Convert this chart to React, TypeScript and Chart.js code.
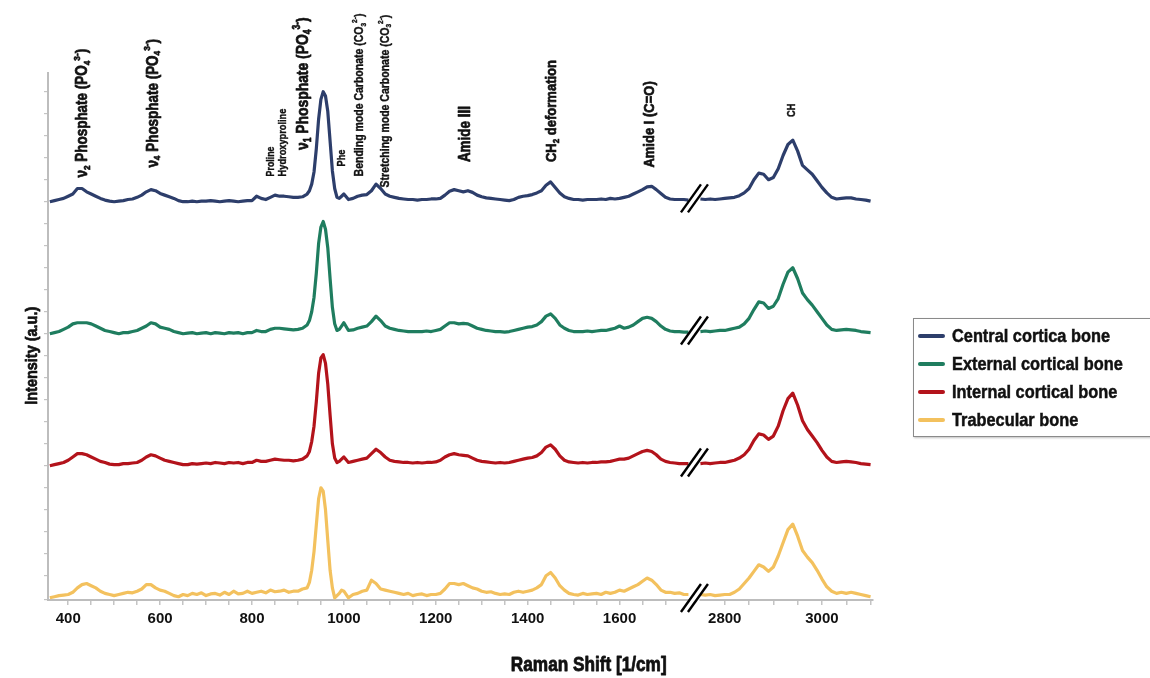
import React, { useEffect, useRef } from 'react';
import { Chart, registerables } from 'chart.js';

Chart.register(...registerables);

// ---------------- DATA ----------------
// Raman shift positions (1/cm), fingerprint region and high-wavenumber region
const X_LEFT: number[] = [
  360, 370, 380, 390, 400, 410, 420, 430, 440, 450, 460, 470, 480, 490, 500, 510, 520, 530, 540, 550,
  560, 570, 580, 590, 600, 610, 620, 630, 640, 650, 660, 670, 680, 690, 700, 710, 720, 730, 740, 750,
  760, 770, 780, 790, 800, 810, 820, 830, 840, 850, 860, 870, 880, 890, 900, 910, 920,
  925, 930, 935, 940, 945, 950, 955, 960, 965, 970, 975, 980, 985, 990, 995, 1000,
  1010, 1020, 1030, 1040, 1050, 1060, 1070, 1080, 1090,
  1100, 1110, 1120, 1130, 1140, 1150, 1160, 1170, 1180, 1190,
  1200, 1210, 1220, 1230, 1240, 1250, 1260, 1270, 1280, 1290,
  1300, 1310, 1320, 1330, 1340, 1350, 1360, 1370, 1380, 1390,
  1400, 1410, 1420, 1430, 1440, 1450, 1460, 1470, 1480, 1490,
  1500, 1510, 1520, 1530, 1540, 1550, 1560, 1570, 1580, 1590,
  1600, 1610, 1620, 1630, 1640, 1650, 1660, 1670, 1680, 1690,
  1700, 1710, 1720, 1730, 1740, 1750,
];
const X_RIGHT: number[] = [
  2750, 2760, 2770, 2780, 2790, 2800, 2810, 2820, 2830, 2840,
  2850, 2860, 2870, 2880, 2890, 2900, 2910, 2920, 2930, 2940,
  2950, 2960, 2970, 2980, 2990, 3000, 3010, 3020, 3030, 3040,
  3050, 3060, 3070, 3080, 3090, 3100,
];

const CENTRAL_LEFT: number[] = [
  0.0, 0.01, 0.02, 0.03, 0.05, 0.07, 0.12, 0.12, 0.09, 0.07, 0.05, 0.03, 0.015, 0.005, 0.0, 0.005, 0.01, 0.02, 0.025, 0.04,
  0.06, 0.09, 0.11, 0.1, 0.075, 0.06, 0.045, 0.03, 0.01, 0.0, 0.0, 0.005, 0.0, 0.005, 0.005, 0.01, 0.005, 0.0, 0.005, 0.01,
  0.005, 0.0, 0.005, 0.01, 0.01, 0.05, 0.03, 0.02, 0.04, 0.06, 0.05, 0.05, 0.045, 0.04, 0.04, 0.045, 0.07,
  0.1, 0.16, 0.27, 0.48, 0.75, 0.93, 1.0, 0.96, 0.82, 0.55, 0.28, 0.12, 0.04, 0.03, 0.05, 0.07,
  0.02, 0.03, 0.05, 0.06, 0.065, 0.1, 0.16, 0.12, 0.07,
  0.05, 0.04, 0.03, 0.025, 0.02, 0.02, 0.015, 0.02, 0.02, 0.025,
  0.025, 0.03, 0.06, 0.095, 0.11, 0.1, 0.09, 0.1, 0.085, 0.06,
  0.045, 0.035, 0.03, 0.025, 0.02, 0.015, 0.01, 0.02, 0.04, 0.05,
  0.055, 0.065, 0.08, 0.1, 0.15, 0.18, 0.13, 0.08, 0.045, 0.03,
  0.02, 0.02, 0.015, 0.02, 0.02, 0.02, 0.025, 0.02, 0.03, 0.025,
  0.03, 0.04, 0.05, 0.07, 0.09, 0.11, 0.135, 0.14, 0.11, 0.075,
  0.04, 0.025, 0.02, 0.02, 0.02, 0.015,
];
const CENTRAL_RIGHT: number[] = [
  0.025, 0.02, 0.025, 0.02, 0.025, 0.03, 0.035, 0.04, 0.055, 0.08,
  0.12, 0.2, 0.26, 0.25, 0.2, 0.22, 0.3, 0.42, 0.52, 0.56,
  0.46, 0.33, 0.29, 0.25, 0.19, 0.13, 0.08, 0.04, 0.025, 0.03,
  0.035, 0.035, 0.025, 0.02, 0.015, 0.005,
];

const EXTERNAL_LEFT: number[] = [
  0.0, 0.01, 0.02, 0.04, 0.06, 0.09, 0.1, 0.1, 0.1, 0.09, 0.07, 0.05, 0.03, 0.02, 0.01, 0.0, 0.01, 0.01, 0.02, 0.03,
  0.05, 0.07, 0.1, 0.09, 0.06, 0.05, 0.04, 0.02, 0.01, 0.0, 0.005, 0.01, 0.0, 0.005, 0.01, 0.0, 0.01, 0.005, 0.0, 0.01,
  0.005, 0.01, 0.0, 0.01, 0.01, 0.03, 0.02, 0.02, 0.04, 0.05, 0.05, 0.045, 0.04, 0.035, 0.04, 0.05, 0.08,
  0.12, 0.2, 0.33, 0.55, 0.82, 0.97, 1.02, 0.95, 0.78, 0.5, 0.24, 0.09, 0.03, 0.04, 0.07, 0.1,
  0.03, 0.035, 0.05, 0.06, 0.07, 0.11, 0.16, 0.12, 0.07,
  0.05, 0.04, 0.03, 0.025, 0.02, 0.02, 0.02, 0.02, 0.025, 0.02,
  0.03, 0.04, 0.07, 0.1, 0.1, 0.09, 0.095, 0.09, 0.07, 0.05,
  0.04, 0.03, 0.025, 0.02, 0.02, 0.015, 0.02, 0.03, 0.04, 0.05,
  0.06, 0.065, 0.08, 0.11, 0.16, 0.18, 0.14, 0.08, 0.05, 0.03,
  0.02, 0.02, 0.02, 0.025, 0.02, 0.025, 0.03, 0.03, 0.04, 0.05,
  0.07, 0.05, 0.06, 0.08, 0.11, 0.14, 0.15, 0.14, 0.11, 0.07,
  0.04, 0.025, 0.02, 0.02, 0.015, 0.015,
];
const EXTERNAL_RIGHT: number[] = [
  0.02, 0.025, 0.02, 0.025, 0.03, 0.03, 0.04, 0.05, 0.06, 0.09,
  0.14, 0.22, 0.29, 0.28, 0.23, 0.25, 0.32, 0.45, 0.56, 0.6,
  0.5, 0.37, 0.31, 0.26, 0.2, 0.14, 0.08, 0.04, 0.03, 0.035,
  0.04, 0.035, 0.03, 0.02, 0.015, 0.01,
];

const INTERNAL_LEFT: number[] = [
  0.0, 0.01, 0.02, 0.03, 0.05, 0.08, 0.11, 0.11, 0.1, 0.08, 0.06, 0.04, 0.03, 0.015, 0.01, 0.01, 0.02, 0.02, 0.025, 0.03,
  0.05, 0.08, 0.1, 0.09, 0.07, 0.05, 0.04, 0.03, 0.02, 0.01, 0.01, 0.02, 0.015, 0.02, 0.025, 0.02, 0.03, 0.025, 0.02, 0.03,
  0.025, 0.03, 0.02, 0.03, 0.03, 0.05, 0.04, 0.04, 0.05, 0.06, 0.055, 0.05, 0.05, 0.045, 0.05, 0.06, 0.09,
  0.13, 0.22, 0.36, 0.58, 0.84, 0.98, 1.01, 0.93, 0.74, 0.46, 0.2, 0.07, 0.03, 0.04, 0.06, 0.08,
  0.03, 0.04, 0.05, 0.06, 0.07, 0.11, 0.15, 0.12, 0.08,
  0.05, 0.04, 0.035, 0.03, 0.03, 0.025, 0.03, 0.025, 0.03, 0.03,
  0.035, 0.05, 0.08, 0.1, 0.11, 0.1, 0.095, 0.09, 0.07, 0.05,
  0.04, 0.035, 0.03, 0.025, 0.03, 0.025, 0.03, 0.04, 0.05, 0.06,
  0.07, 0.075, 0.09, 0.12, 0.17, 0.19, 0.15, 0.09, 0.05, 0.035,
  0.03, 0.025, 0.03, 0.025, 0.03, 0.03, 0.035, 0.035, 0.04, 0.05,
  0.06, 0.06, 0.07, 0.09, 0.11, 0.13, 0.14, 0.13, 0.1, 0.06,
  0.04, 0.03, 0.025, 0.02, 0.02, 0.02,
];
const INTERNAL_RIGHT: number[] = [
  0.02, 0.025, 0.02, 0.025, 0.03, 0.03, 0.04, 0.05, 0.07, 0.1,
  0.15, 0.23, 0.29, 0.28, 0.24, 0.27, 0.36, 0.5, 0.61, 0.66,
  0.55, 0.41, 0.33, 0.27, 0.21, 0.14, 0.08, 0.04, 0.03, 0.035,
  0.04, 0.035, 0.03, 0.02, 0.015, 0.01,
];

const TRABECULAR_LEFT: number[] = [
  0.0, 0.01, 0.02, 0.025, 0.03, 0.05, 0.09, 0.12, 0.13, 0.11, 0.09, 0.06, 0.04, 0.03, 0.02, 0.03, 0.04, 0.05, 0.045, 0.06,
  0.08, 0.12, 0.12, 0.09, 0.07, 0.06, 0.04, 0.02, 0.01, 0.03, 0.02, 0.04, 0.03, 0.045, 0.02, 0.035, 0.04, 0.025, 0.05, 0.03,
  0.06, 0.035, 0.04, 0.06, 0.04, 0.05, 0.06, 0.045, 0.07, 0.055, 0.06, 0.07, 0.05, 0.06, 0.06, 0.08, 0.09,
  0.14, 0.25, 0.42, 0.66, 0.9, 1.0, 0.97, 0.8, 0.52, 0.25, 0.09, 0.0, 0.02, 0.04, 0.07, 0.06,
  0.0, 0.03, 0.04, 0.06, 0.07, 0.16, 0.13, 0.08, 0.07,
  0.06, 0.05, 0.04, 0.03, 0.04, 0.02, 0.03, 0.035, 0.02, 0.03,
  0.03, 0.04, 0.08, 0.13, 0.13, 0.12, 0.13, 0.11, 0.09, 0.08,
  0.06, 0.05, 0.055, 0.04, 0.03, 0.035, 0.03, 0.05, 0.06, 0.05,
  0.06, 0.07, 0.09, 0.12, 0.2, 0.23, 0.18, 0.11, 0.07, 0.04,
  0.03, 0.025, 0.04, 0.03, 0.035, 0.04, 0.03, 0.05, 0.04, 0.05,
  0.07, 0.06, 0.08, 0.1, 0.12, 0.15, 0.18, 0.16, 0.12, 0.07,
  0.05, 0.05, 0.04, 0.045, 0.03, 0.03,
];
const TRABECULAR_RIGHT: number[] = [
  0.03, 0.025, 0.03, 0.02, 0.025, 0.03, 0.03, 0.05, 0.08, 0.13,
  0.18, 0.24, 0.3, 0.28, 0.24, 0.28, 0.38, 0.5, 0.62, 0.67,
  0.56, 0.43, 0.37, 0.32, 0.25, 0.17, 0.1, 0.06, 0.04, 0.05,
  0.04, 0.05, 0.04, 0.03, 0.02, 0.01,
];

const SERIES_NAMES: string[] = [
  'Central cortica bone',
  'External cortical bone',
  'Internal cortical bone',
  'Trabecular bone',
];
const SERIES_LEFT: number[][] = [CENTRAL_LEFT, EXTERNAL_LEFT, INTERNAL_LEFT, TRABECULAR_LEFT];
const SERIES_RIGHT: number[][] = [CENTRAL_RIGHT, EXTERNAL_RIGHT, INTERNAL_RIGHT, TRABECULAR_RIGHT];
// vertical stacking offsets of the spectra (a.u.)
const OFFSETS: number[] = [3.6, 2.4, 1.2, 0];
const COLORS: string[] = ['#2d3e6b', '#1f7d5f', '#b3131b', '#f3c15e'];

// x tick labels
const X_TICK_LABELS: number[] = [400, 600, 800, 1000, 1200, 1400, 1600, 2800, 3000];

// band annotations: text runs, band position (1/cm), label foot (a.u.), font size
type Run = { t: string; s?: 'sub' | 'sup' };
const BAND_LABELS: Run[][] = [
  [{ t: 'ν' }, { t: '2', s: 'sub' }, { t: ' Phosphate (PO' }, { t: '4', s: 'sub' }, { t: '3-', s: 'sup' }, { t: ')' }],
  [{ t: 'ν' }, { t: '4', s: 'sub' }, { t: ' Phosphate (PO' }, { t: '4', s: 'sub' }, { t: '3-', s: 'sup' }, { t: ')' }],
  [{ t: 'Proline' }],
  [{ t: 'Hydroxyproline' }],
  [{ t: 'ν' }, { t: '1', s: 'sub' }, { t: ' Phosphate (PO' }, { t: '4', s: 'sub' }, { t: '3-', s: 'sup' }, { t: ')' }],
  [{ t: 'Phe' }],
  [{ t: 'Bending mode Carbonate (CO' }, { t: '3', s: 'sub' }, { t: '2-', s: 'sup' }, { t: ')' }],
  [{ t: 'Stretching mode Carbonate (CO' }, { t: '3', s: 'sub' }, { t: '2-', s: 'sup' }, { t: ')' }],
  [{ t: 'Amide III' }],
  [{ t: 'CH' }, { t: '2', s: 'sub' }, { t: ' deformation' }],
  [{ t: 'Amide I (C=O)' }],
  [{ t: 'CH' }],
];
const BAND_X: number[] = [432, 585, 841, 867, 913, 996, 1035, 1090, 1264, 1452, 1666, 2938];
const BAND_Y: number[] = [3.82, 3.91, 3.83, 3.83, 4.07, 3.92, 3.83, 3.73, 3.96, 3.96, 3.91, 4.37];
const BAND_SIZE: number[] = [16, 16, 10.5, 11, 16.5, 11, 12.5, 12.5, 16, 15.5, 15.5, 11];

// ---------------- BROKEN AXIS ----------------
const BREAK_LOW = 1750;
const BREAK_HIGH = 2750;
const RIGHT_REF_RAW = 2800;
const RIGHT_REF_AXIS = 1829;
const RIGHT_STRETCH = 1.058;
const toAxis = (v: number) => (v < 2000 ? v : RIGHT_REF_AXIS + (v - RIGHT_REF_RAW) * RIGHT_STRETCH);
const BREAK_MID = (BREAK_LOW + toAxis(BREAK_HIGH)) / 2;
const fromAxis = (a: number) => (a < BREAK_MID ? a : RIGHT_REF_RAW + (a - RIGHT_REF_AXIS) / RIGHT_STRETCH);

const FONT = "'Liberation Sans', Arial, sans-serif";
const SQUEEZE = 0.84; // the original uses a condensed face
const INK = '#111';

function boldText(ctx: CanvasRenderingContext2D, t: string, x: number, y: number, w: number) {
  ctx.fillText(t, x, y);
  ctx.lineWidth = w;
  ctx.strokeText(t, x, y);
}

function drawRuns(ctx: CanvasRenderingContext2D, runs: Run[], size: number) {
  let x = 0;
  for (const r of runs) {
    const fs = r.s ? size * 0.62 : size;
    ctx.font = `bold ${fs}px ${FONT}`;
    const dy = r.s === 'sub' ? size * 0.28 : r.s === 'sup' ? -size * 0.38 : 0;
    boldText(ctx, r.t, x, dy, size > 13 ? 0.7 : 0.4);
    x += ctx.measureText(r.t).width;
  }
}

const decorations = {
  id: 'decorations',
  afterDraw(chart: any) {
    const { ctx, scales, chartArea } = chart;
    const xs = scales.x;
    const ys = scales.y;
    ctx.save();

    // break marks "//"
    const drawSlashes = (cx: number, cy: number) => {
      ctx.strokeStyle = '#000';
      ctx.lineWidth = 2.4;
      ctx.lineCap = 'butt';
      for (const d of [-3.5, 3.5]) {
        ctx.beginPath();
        ctx.moveTo(cx + d - 10, cy + 14);
        ctx.lineTo(cx + d + 10, cy - 14);
        ctx.stroke();
      }
    };
    const bx = xs.getPixelForValue(BREAK_MID);
    const gx0 = xs.getPixelForValue(BREAK_LOW);
    const gx1 = xs.getPixelForValue(toAxis(BREAK_HIGH));
    ctx.fillStyle = '#fff';
    ctx.fillRect(gx0 + 1, chartArea.bottom - 2, gx1 - gx0 - 2, 4);
    drawSlashes(bx, chartArea.bottom - 2);
    OFFSETS.forEach((o) => {
      if (o > 0) drawSlashes(bx, ys.getPixelForValue(o + 0.03));
    });

    // band annotations
    ctx.fillStyle = INK;
    ctx.strokeStyle = INK;
    ctx.lineJoin = 'round';
    ctx.textBaseline = 'middle';
    ctx.textAlign = 'left';
    BAND_LABELS.forEach((runs, i) => {
      const px = xs.getPixelForValue(toAxis(BAND_X[i]));
      const py = ys.getPixelForValue(BAND_Y[i]);
      ctx.save();
      ctx.translate(px, py);
      ctx.rotate(-Math.PI / 2);
      ctx.scale(SQUEEZE, 1);
      drawRuns(ctx, runs, BAND_SIZE[i]);
      ctx.restore();
    });

    // axis titles
    ctx.textAlign = 'center';
    ctx.textBaseline = 'middle';
    ctx.save();
    ctx.translate(xs.getPixelForValue(1533), chartArea.bottom + 65);
    ctx.scale(0.86, 1);
    ctx.font = `bold 20px ${FONT}`;
    boldText(ctx, 'Raman Shift [1/cm]', 0, 0, 0.8);
    ctx.restore();
    ctx.save();
    ctx.translate(chartArea.left - 16, ys.getPixelForValue(2.2));
    ctx.rotate(-Math.PI / 2);
    ctx.scale(0.85, 1);
    ctx.font = `bold 17px ${FONT}`;
    boldText(ctx, 'Intensity (a.u.)', 0, 0, 0.7);
    ctx.restore();

    ctx.restore();
  },
};

export default function App() {
  const canvasRef = useRef<HTMLCanvasElement | null>(null);

  useEffect(() => {
    document.body.style.margin = '0';
    const canvas = canvasRef.current;
    if (!canvas) return;

    const datasets = SERIES_NAMES.map((name, i) => {
      const pts: { x: number; y: number | null }[] = [];
      X_LEFT.forEach((x, j) => pts.push({ x: toAxis(x), y: SERIES_LEFT[i][j] + OFFSETS[i] }));
      pts.push({ x: BREAK_MID, y: null });
      X_RIGHT.forEach((x, j) => pts.push({ x: toAxis(x), y: SERIES_RIGHT[i][j] + OFFSETS[i] }));
      return {
        label: name,
        data: pts,
        borderColor: COLORS[i],
        backgroundColor: COLORS[i],
        borderWidth: 3.2,
        pointRadius: 0,
        tension: 0,
        borderJoinStyle: 'round',
        spanGaps: false,
        fill: false,
      };
    });

    const tickValues: number[] = [];
    for (let v = 400; v <= 1700; v += 50) tickValues.push(v);
    for (let v = 2800; v <= 3100; v += 50) tickValues.push(v);

    const chart = new Chart(canvas, {
      type: 'line',
      data: { datasets } as any,
      options: {
        animation: false,
        responsive: true,
        maintainAspectRatio: false,
        layout: { padding: { top: 73, right: 277, left: 0, bottom: 0 } },
        plugins: { legend: { display: false }, tooltip: { enabled: false } },
        scales: {
          x: {
            type: 'linear',
            min: toAxis(356),
            max: toAxis(3105),
            afterBuildTicks: (s: any) => {
              s.ticks = tickValues.map((v) => ({ value: toAxis(v) }));
            },
            afterFit: (s: any) => {
              s.height = 78;
            },
            ticks: {
              autoSkip: false,
              maxRotation: 0,
              padding: 5,
              color: INK,
              font: { family: FONT, size: 15, weight: 'bold' },
              callback: (value: any) => {
                const raw = Math.round(fromAxis(Number(value)));
                return X_TICK_LABELS.includes(raw) ? String(raw) : '';
              },
            },
            grid: { drawOnChartArea: false, drawTicks: true, tickLength: 5, color: '#c4c4c4', lineWidth: 1.5 },
            border: { display: true, color: '#bdbdbd', width: 2 },
          },
          y: {
            type: 'linear',
            min: -0.02,
            max: 4.77,
            afterFit: (s: any) => {
              s.width = 48;
            },
            ticks: { stepSize: 0.1, callback: () => '', padding: 0 },
            grid: { drawOnChartArea: false, drawTicks: true, tickLength: 4, color: '#c4c4c4', lineWidth: 1.2 },
            border: { display: true, color: '#bdbdbd', width: 2 },
          },
        },
      } as any,
      plugins: [decorations],
    });
    return () => chart.destroy();
  }, []);

  return (
    <div style={{ position: 'relative', width: 1150, height: 678, overflow: 'hidden', background: '#fff' }}>
      <canvas ref={canvasRef} />
      <div
        style={{
          position: 'absolute',
          left: 913,
          top: 318,
          width: 250,
          height: 119,
          boxSizing: 'border-box',
          border: '1.5px solid #8a8a8a',
          boxShadow: '1px 1px 2px rgba(0,0,0,0.25)',
          background: '#fff',
          paddingTop: 3,
          fontFamily: FONT,
          fontWeight: 'bold',
          fontSize: 19,
          color: INK,
        }}
      >
        {SERIES_NAMES.map((name, i) => (
          <div key={name} style={{ display: 'flex', alignItems: 'center', height: 28 }}>
            <span
              style={{
                display: 'inline-block',
                marginLeft: 4,
                width: 27,
                height: 4.5,
                borderRadius: 2,
                background: COLORS[i],
                marginRight: 7,
                flex: 'none',
              }}
            />
            <span
              style={{
                display: 'inline-block',
                whiteSpace: 'nowrap',
                transform: 'scaleX(0.86)',
                transformOrigin: 'left center',
                WebkitTextStroke: '0.5px #111',
              }}
            >
              {name}
            </span>
          </div>
        ))}
      </div>
    </div>
  );
}
